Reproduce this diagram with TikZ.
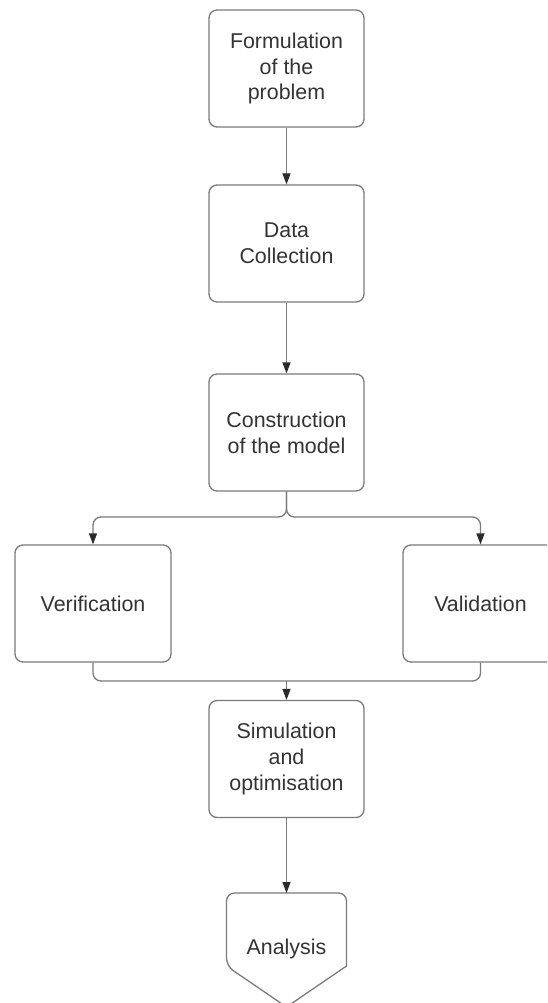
\documentclass[tikz,border=0pt]{standalone}
\usepackage{fontspec}
\setmainfont{Liberation Sans}
\usetikzlibrary{arrows.meta}
\definecolor{linegray}{HTML}{7A7A7A}
\definecolor{textgray}{HTML}{333333}
\definecolor{tipgray}{HTML}{2A2A2A}
\tikzset{
  stepbox/.style={draw=linegray, line width=1.3pt, rounded corners=8pt,
    minimum width=155pt, minimum height=117pt, align=center,
    text=textgray, font=\fontsize{21.4pt}{25.7pt}\selectfont, inner sep=0pt},
  flow/.style={draw=linegray, line width=1.3pt,
    -{Triangle[length=11pt,width=8pt,color=tipgray]}},
  link/.style={draw=linegray, line width=1.3pt, rounded corners=8pt},
}
\begin{document}
\begin{tikzpicture}[x=1pt, y=-1pt]
  \useasboundingbox (0,0) rectangle (547,1003);
  \clip (0,0) rectangle (547,1003);

  % main column
  \node[stepbox] (form) at (286.5,68.5) {Formulation\\of the\\problem};
  \node[stepbox] (data) at (286.5,243.5) {Data\\Collection};
  \node[stepbox] (cons) at (286.5,432.5) {Construction\\of the model};

  % the two checks side by side
  \node[stepbox, minimum width=156pt] (verif) at (93,603.5) {Verification};
  \node[stepbox] (valid) at (480.5,603.5) {Validation};

  \node[stepbox] (sim) at (286.5,759) {Simulation\\and\\optimisation};

  % final step: off-page connector shape
  \coordinate (antop) at (286.5,893);
  \draw[draw=linegray, line width=1.3pt, rounded corners=8pt]
    (346.5,966) -- (346.5,893) -- (226.5,893) -- (226.5,966)
    [sharp corners] -- (286.5,1007) -- cycle;
  \node[text=textgray, font=\fontsize{21.4pt}{25.7pt}\selectfont] (an) at (286.5,949) {Analysis};

  % connectors
  \draw[flow] (form.south) -- (data.north);
  \draw[flow] (data.south) -- (cons.north);
  \coordinate (split) at (286.5,517);
  \draw[link, flow] (cons.south) -- (split) -| (verif.north);
  \draw[link, flow] (cons.south) -- (split) -| (valid.north);
  \coordinate (merge) at (286.5,681);
  \draw[link] (verif.south) |- (merge) -| (valid.south);
  \draw[flow] (merge) -- (sim.north);
  \draw[flow] (sim.south) -- (antop);
\end{tikzpicture}
\end{document}
